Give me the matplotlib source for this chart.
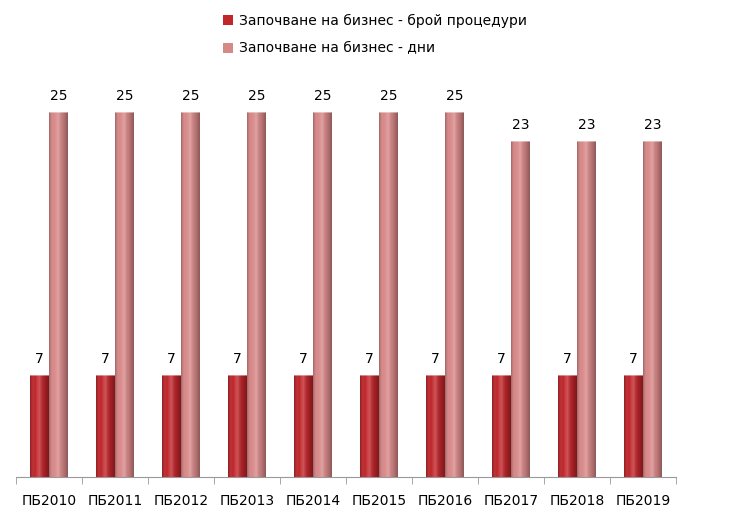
import numpy as np
import matplotlib.pyplot as plt
from matplotlib.colors import LinearSegmentedColormap

# Data
years = ['ПБ2010', 'ПБ2011', 'ПБ2012', 'ПБ2013', 'ПБ2014',
         'ПБ2015', 'ПБ2016', 'ПБ2017', 'ПБ2018', 'ПБ2019']
procedures = [7, 7, 7, 7, 7, 7, 7, 7, 7, 7]
days = [25, 25, 25, 25, 25, 25, 25, 23, 23, 23]

label_proc = 'Започване на бизнес - брой процедури'
label_days = 'Започване на бизнес - дни'

dark = '#C0262B'
light = '#D98888'

fig = plt.figure(figsize=(7.5, 5.25), dpi=100)
ax = fig.add_axes([16 / 750, 48 / 525, 660 / 750, 409 / 525])

x = np.arange(len(years))
w = 0.28
b1 = ax.bar(x - 0.145, procedures, w, color=dark, label=label_proc, zorder=2)
b2 = ax.bar(x + 0.145, days, w, color=light, label=label_days, zorder=2)

# cylinder-like shading on each bar
def shade(bars):
    cmap = LinearSegmentedColormap.from_list('c', ['#00000040', '#ffffff00', '#ffffff38', '#00000020', '#00000058'])
    grad = np.linspace(0, 1, 50).reshape(1, -1)
    for p in bars:
        x0, y0 = p.get_x(), p.get_y()
        im = ax.imshow(grad, cmap=cmap, aspect='auto', zorder=3,
                       extent=[x0, x0 + p.get_width(), y0, y0 + p.get_height()])
        im.set_clip_path(p)
        ax.plot([x0, x0 + p.get_width()], [p.get_height()] * 2,
                color='white', alpha=0.5, lw=1.2, zorder=4, solid_capstyle='butt')

shade(b1)
shade(b2)

for xi, v in zip(x, procedures):
    ax.text(xi - 0.145, v + 0.6, str(v), ha='center', va='bottom', fontsize=10)
for xi, v in zip(x, days):
    ax.text(xi + 0.145, v + 0.6, str(v), ha='center', va='bottom', fontsize=10)

ax.set_xlim(-0.5, len(years) - 0.5)
ax.set_ylim(0, 28)
ax.set_yticks([])
ax.set_xticks(x)
ax.set_xticklabels(years, fontsize=10)
ax.tick_params(axis='x', which='major', length=0, pad=12)
ax.set_xticks(np.arange(-0.5, len(years), 1), minor=True)
ax.tick_params(axis='x', which='minor', length=5, color='#999999')
for s in ['top', 'right', 'left']:
    ax.spines[s].set_visible(False)
ax.spines['bottom'].set_color('#999999')

fig.legend(loc='upper center', bbox_to_anchor=(0.50, 0.998), frameon=False,
           fontsize=10, handlelength=0.7, handleheight=0.7, labelspacing=1.0,
           handletextpad=0.4)

fig.savefig('out.png', dpi=100)
